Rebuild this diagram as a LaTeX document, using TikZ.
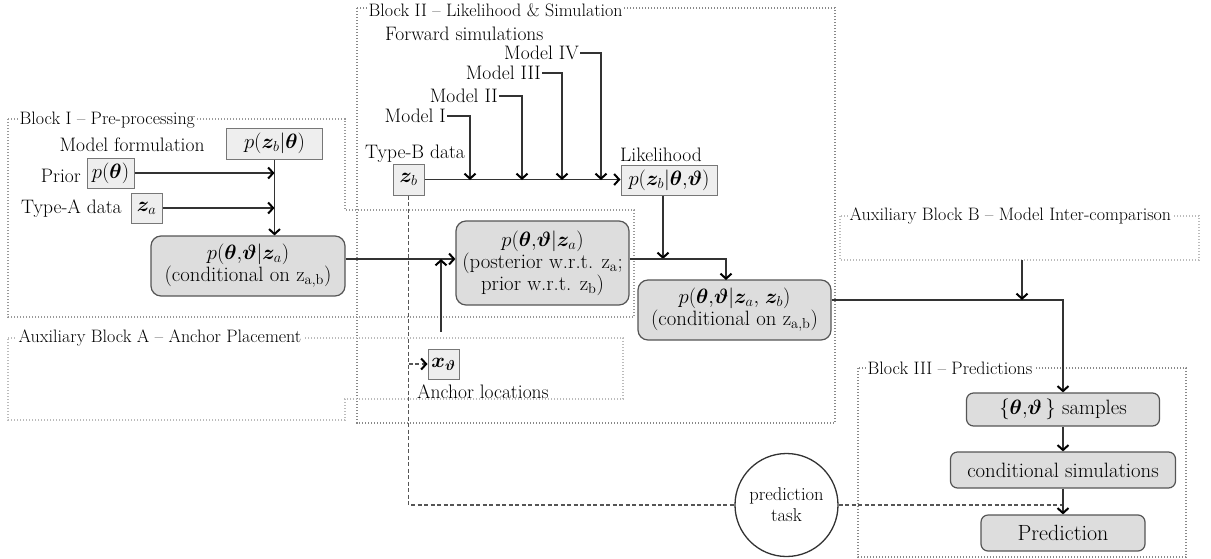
\documentclass[tikz,border=0pt]{standalone}
\usepackage{fontspec}
\usepackage{amsmath,bm}
\usetikzlibrary{arrows.meta,calc}
\definecolor{boxfill}{HTML}{DDDDDD}
\definecolor{smallfill}{HTML}{EEEEEE}
\definecolor{boxline}{HTML}{555555}
\definecolor{smallline}{HTML}{777777}
\definecolor{lineclr}{HTML}{333333}
\definecolor{frameA}{HTML}{999999}
\definecolor{frameB}{HTML}{BBBBBB}
\definecolor{frameC}{HTML}{888888}
\newcommand{\bth}{\bm{\theta}}
\newcommand{\bvt}{\bm{\vartheta}}
\newcommand{\bz}{\bm{z}}
\tikzset{
  lbl/.style={font=\fontsize{19.5}{22}\selectfont, inner sep=1pt, text=black},
  framelbl/.style={font=\fontsize{18}{21}\selectfont, fill=white, inner sep=1.5pt, anchor=west},
  smallbox/.style={draw=smallline, fill=smallfill, line width=1pt, inner sep=0pt, font=\fontsize{20.74}{22}\selectfont},
  bigbox/.style={draw=boxline, fill=boxfill, line width=1.2pt, rounded corners=10pt, inner sep=0pt, align=center, font=\fontsize{20.74}{22}\selectfont},
  conn/.style={draw=lineclr, line width=1.2pt},
  arr/.style={conn, -{Straight Barb[length=5pt,width=11pt,line width=2pt,color=black]}},
  dashln/.style={draw=boxline, line width=1.3pt, dash pattern=on 4pt off 2.5pt},
  frameI/.style={draw=frameA, line width=1.3pt, dash pattern=on 1.2pt off 1.8pt},
  frameII/.style={draw=frameC, line width=1.4pt, dash pattern=on 1.2pt off 1.8pt},
  frameAux/.style={draw=frameB, line width=1.3pt, dash pattern=on 1.2pt off 1.8pt},
}
\begin{document}
\begin{tikzpicture}[x=1pt,y=-1pt]
\useasboundingbox (0,0) rectangle (1211,558);

% frames
\draw[frameI] (8,119) -- (345,119) -- (345,210) -- (634,210) -- (634,317) -- (8,317) -- cycle;
\node[framelbl] (lI) at (18,120) {Block I -- Pre-processing};
\draw[frameII] (357,8) rectangle (835,423);
\node[framelbl] (lII) at (367,10) {Block II -- Likelihood \& Simulation};
\draw[frameAux] (8,338) -- (623,338) -- (623,399) -- (345,399) -- (345,420) -- (8,420) -- cycle;
\node[framelbl] (lA) at (17,338) {Auxiliary Block A -- Anchor Placement};
\draw[frameAux] (840,216) rectangle (1199,260);
\node[framelbl] (lB) at (848,216) {Auxiliary Block B -- Model Inter-comparison};
\draw[frameII] (858,368) rectangle (1186,557);
\node[framelbl] (lIII) at (866,368) {Block III -- Predictions};

% Block I
\node[lbl] (mf) at (132,145) {Model formulation};
\node[lbl, anchor=east] (prior) at (82,176) {Prior};
\node[lbl, anchor=west] (typea) at (20,209) {Type-A data};
\node[smallbox, minimum width=96pt, minimum height=31pt] (pzt) at (274.5,143.5) {$p(\bz_b|\bth)$};
\node[smallbox, minimum width=47pt, minimum height=30pt] (pth) at (110.5,173) {$p(\bth)$};
\node[smallbox, minimum width=31pt, minimum height=30pt] (za) at (146.5,208) {$\bz_a$};
\node[bigbox, minimum width=194pt, minimum height=60pt] (c1) at (248,266) {$p(\bth{,}\bvt|\bz_a)$\\(conditional on z\textsubscript{a,b})};
\node[bigbox, minimum width=173pt, minimum height=84pt] (post) at (542.5,263) {$p(\bth{,}\bvt|\bz_a)$\\(posterior w.r.t. z\textsubscript{a};\\prior w.r.t. z\textsubscript{b})};

% Block II
\node[lbl, anchor=west] (fs) at (384,34) {Forward simulations};
\node[lbl, anchor=east] (m4) at (580,53) {Model IV};
\node[lbl, anchor=east] (m3) at (542,73) {Model III};
\node[lbl, anchor=east] (m2) at (499,96) {Model II};
\node[lbl, anchor=east] (m1) at (447,116) {Model I};
\node[lbl, anchor=west] (typeb) at (364,154) {Type-B data};
\node[lbl, anchor=west] (likl) at (619,155) {Likelihood};
\node[smallbox, minimum width=31pt, minimum height=31pt] (zb) at (408.5,179.5) {$\bz_b$};
\node[smallbox, minimum width=96pt, minimum height=30pt] (lik) at (669,180) {$p(\bz_b|\bth{,}\bvt)$};
\node[bigbox, minimum width=193pt, minimum height=60pt] (c2) at (734.5,310) {$p(\bth{,}\bvt|\bz_a{,}\;\bz_b)$\\(conditional on z\textsubscript{a,b})};

% Aux A
\node[smallbox, minimum width=31pt, minimum height=30pt] (xth) at (443.5,364) {$\bm{x}_{\bvt}$};
\node[lbl, anchor=west] (anch) at (416,392) {Anchor locations};

% Block III
\node[bigbox, minimum width=193pt, minimum height=33pt, rounded corners=7pt] (samp) at (1063,409.5) {$\{\bth{,}\bvt\,\}$ samples};
\node[bigbox, minimum width=225pt, minimum height=36pt, rounded corners=7pt] (csim) at (1063,470) {conditional simulations};
\node[bigbox, minimum width=164pt, minimum height=36pt, rounded corners=7pt, font=\fontsize{22}{24}\selectfont] (pred) at (1063,533) {Prediction};

% coordinates
\coordinate (j1) at (470,180);
\coordinate (j2) at (522,180);
\coordinate (j3) at (562,180);
\coordinate (j4) at (601,180);
\coordinate (pin) at ([yshift=4pt]post.west);
\coordinate (pout) at ([yshift=4pt]post.east);
\coordinate (auxA) at (441,332);
\coordinate (j5) at (663,259);
\coordinate (j6) at (726,280);
\coordinate (cout) at ([yshift=10pt]c2.east);
\coordinate (auxB) at (1022,260);

% dashed prediction-task path
\draw[dashln] (zb.south) |- (786.5,505);
\draw[dashln, -{Straight Barb[length=5pt,width=11pt,line width=2pt,color=black]}] (xth.west -| zb.south) -- (xth.west);
\node[draw=lineclr, line width=1.3pt, circle, minimum size=103pt, fill=white, align=center, lbl, font=\fontsize{18.5}{21}\selectfont] (task) at (786.5,505) {prediction\\task};
\draw[dashln] (task.east) -- (task.east -| pred.north);

% connectors Block I
\draw[arr] (pth.east) -- (pth.east -| pzt.south);
\draw[arr] (za.east) -- (za.east -| pzt.south);
\draw[arr] (pzt.south) -- (pzt.south |- c1.north);
\draw[arr] (pin -| c1.east) -- (pin);
\draw[arr] (auxA) -- (auxA |- pin);

% connectors Block II
\draw[arr] (zb.east) -- (zb.east -| lik.west);
\draw[arr] (m1.east) -| (j1);
\draw[arr] (m2.east) -| (j2);
\draw[arr] (m3.east) -| (j3);
\draw[arr] (m4.east) -| (j4);
\draw[arr] (lik.south -| j5) -- (j5);
\draw[arr] (pout) -| (j6);

% to Block III
\draw[arr] (cout) -| (samp.north);
\draw[arr] (auxB) -- (auxB |- cout);
\draw[arr] (samp.south) -- (csim.north);
\draw[arr] (csim.south) -- (pred.north);
\end{tikzpicture}
\end{document}
